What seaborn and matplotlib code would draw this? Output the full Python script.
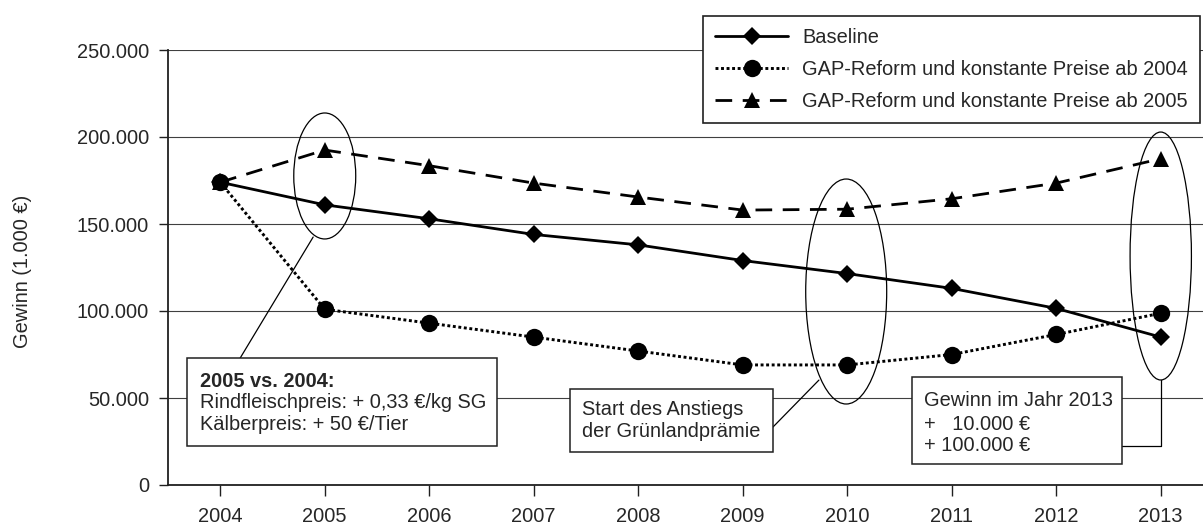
import matplotlib
matplotlib.use("Agg")
import matplotlib.pyplot as plt
import seaborn as sns
import numpy as np
from matplotlib.patches import Ellipse, Rectangle
from matplotlib.ticker import FuncFormatter, FixedLocator

# ---- data ----
years = [2004, 2005, 2006, 2007, 2008, 2009, 2010, 2011, 2012, 2013]
baseline = [174000, 161000, 153000, 144000, 138000, 129000, 121500, 113000, 101500, 85000]
gap2004 = [174000, 101000, 93000, 85000, 77000, 69000, 69000, 75000, 86500, 98700]
gap2005 = [174000, 192500, 183500, 173500, 165500, 158000, 158500, 164500, 173500, 187500]
series_labels = ["Baseline", "GAP-Reform und konstante Preise ab 2004",
                 "GAP-Reform und konstante Preise ab 2005"]
y_ticks = [0, 50000, 100000, 150000, 200000, 250000]
y_label = "Gewinn (1.000 €)"

sns.set_style("white")
plt.rcParams['font.family'] = ['Liberation Sans', 'DejaVu Sans']
FS = 14.4

W, H = 1203, 526
fig = plt.figure(figsize=(W / 100, H / 100), dpi=100)
ax = fig.add_axes([168 / W, 41 / H, 1045 / W, 435 / H])

# grid
for yt in y_ticks:
    ax.axhline(yt, color='#404040', lw=0.8, zorder=0)

sns.lineplot(x=years, y=baseline, ax=ax, color='black', lw=2.0, marker='D',
             markersize=9.5, markeredgewidth=0, label=series_labels[0], zorder=3)
sns.lineplot(x=years, y=gap2004, ax=ax, color='black', lw=2.1, marker='o',
             markersize=12.5, markeredgewidth=0, label=series_labels[1], zorder=5)
sns.lineplot(x=years, y=gap2005, ax=ax, color='black', lw=2.0, marker='^',
             markersize=11.5, markeredgewidth=0, label=series_labels[2], zorder=4)
lines = ax.get_lines()[-3:]
lines[1].set_linestyle((0, (1.0, 0.9)))
lines[2].set_linestyle((0, (6, 3.8)))

ax.set_xlim(2003.5, 2013.5)
ax.set_ylim(0, 250000)
ax.xaxis.set_major_locator(FixedLocator(years))
ax.yaxis.set_major_locator(FixedLocator(y_ticks))
ax.yaxis.set_major_formatter(FuncFormatter(
    lambda v, p: "0" if v == 0 else f"{int(v):,}".replace(",", ".")))
ax.tick_params(axis='x', direction='out', length=8, width=1, color='#202020',
               pad=8, labelsize=FS, bottom=True)
ax.tick_params(axis='y', direction='out', length=6.5, width=1, color='#202020',
               pad=7, labelsize=FS, left=True)
for s in ['top', 'right']:
    ax.spines[s].set_visible(False)
for s in ['left', 'bottom']:
    ax.spines[s].set_color('#202020')
    ax.spines[s].set_linewidth(1.3)

ax.set_ylabel(y_label, fontsize=FS)
ax.yaxis.set_label_coords(-0.130, 0.49)
ax.set_xlabel("")

# legend
leg = ax.legend(handles=lines, labels=series_labels, loc='upper left',
                bbox_to_anchor=(703 / W, 1 - 16 / H), bbox_transform=fig.transFigure,
                fontsize=FS, frameon=True, fancybox=False, handlelength=3.65,
                handletextpad=0.7, borderpad=0.6, labelspacing=0.65,
                borderaxespad=0)
leg.get_frame().set_edgecolor('#202020')
leg.get_frame().set_linewidth(1.2)
leg.get_frame().set_alpha(1)

# ellipses
for (cx, cy, w, h) in [(2005.0, 177600, 0.593, 72400),
                       (2009.99, 111200, 0.775, 129300),
                       (2013.0, 131600, 0.587, 142500)]:
    ax.add_patch(Ellipse((cx, cy), w, h, fill=False, ec='black', lw=0.9, zorder=6))

# annotation boxes
def box(x0, x1, y0, y1):
    ax.add_patch(Rectangle((x0, y0), x1 - x0, y1 - y0, fc='white', ec='#202020',
                           lw=1.1, zorder=7))

box(2003.684, 2006.649, 22400, 73000)
ax.text(2003.809, 56300, "2005 vs. 2004:", fontsize=FS, fontweight='bold',
        va='baseline', ha='left', zorder=8)
ax.text(2003.809, 44200, "Rindfleischpreis: + 0,33 €/kg SG", fontsize=FS,
        va='baseline', ha='left', zorder=8)
ax.text(2003.809, 31600, "Kälberpreis: + 50 €/Tier", fontsize=FS,
        va='baseline', ha='left', zorder=8)

box(2007.347, 2009.289, 19000, 55200)
ax.text(2007.462, 40200, "Start des Anstiegs", fontsize=FS, va='baseline', ha='left', zorder=8)
ax.text(2007.462, 27600, "der Grünlandprämie", fontsize=FS, va='baseline', ha='left', zorder=8)

box(2010.618, 2012.627, 12100, 62100)
ax.text(2010.733, 45400, "Gewinn im Jahr 2013", fontsize=FS, va='baseline', ha='left', zorder=8)
ax.text(2010.733, 31600, "+   10.000 €", fontsize=FS, va='baseline', ha='left', zorder=8)
ax.text(2010.733, 19500, "+ 100.000 €", fontsize=FS, va='baseline', ha='left', zorder=8)

# leader lines
ax.plot([2004.191, 2004.889], [73000, 142500], color='black', lw=0.9, zorder=6)
ax.plot([2009.289, 2009.729], [33300, 60300], color='black', lw=0.9, zorder=6)
ax.plot([2012.627, 2013.0, 2013.0], [22400, 22400, 60300], color='black', lw=0.9, zorder=6)

fig.savefig("out.png", dpi=100)
